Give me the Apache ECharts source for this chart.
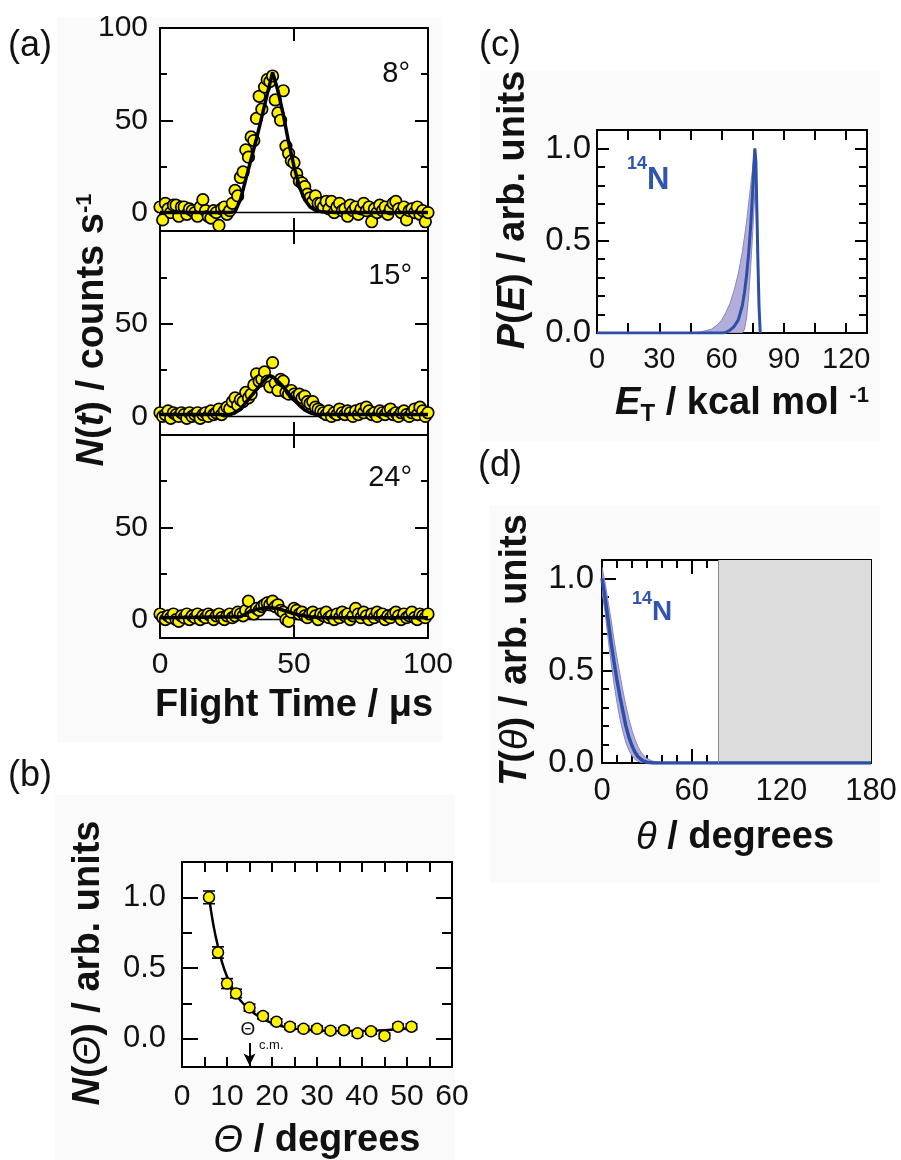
<!DOCTYPE html>
<html><head><meta charset="utf-8">
<script src="https://cdn.jsdelivr.net/npm/echarts@6/dist/echarts.min.js"></script>
<style>html,body{margin:0;padding:0;background:#fff}#c{width:901px;height:1160px}</style>
</head><body><div id="c"></div>
<script>
// ---------- Panel (a): time-of-flight spectra ----------
const flightTime = [0,1,2,3,4,5,6,7,8,9,10,11,12,13,14,15,16,17,18,19,20,21,22,23,24,25,26,27,28,29,30,31,32,33,34,35,36,37,38,39,40,41,42,43,44,45,46,47,48,49,50,51,52,53,54,55,56,57,58,59,60,61,62,63,64,65,66,67,68,69,70,71,72,73,74,75,76,77,78,79,80,81,82,83,84,85,86,87,88,89,90,91,92,93,94,95,96,97,98,99,100];
const counts8 = [3,-4,5,2,0,4,4,-2,3,3, -1,2,1,0,-2,3,7,1,-2,-3, 1,0,-7,2,3,-1,1,5,12,9, 19,22,34,30,41,39,51,63,56,68, 72,71,74,61,54,50,66,36,32,28, 27,21,17,16,14,10,8,6,9,5, 5,3,6,2,6,0,3,5,1,2, -2,4,1,3,-1,2,5,1,3,-5, 2,0,4,1,3,-1,2,5,6,2, 0,3,-4,1,2,0,3,-1,1,-5, 0];
const counts15 = [2,0,1,3,-1,2,1,0,2,1, -1,2,0,1,2,-1,1,2,0,3, 1,2,4,1,3,5,4,8,10,6, 9,8,13,10,12,17,23,19,20,24, 19,16,29,18,14,20,19,13,12,14, 12,11,12,10,11,8,7,8,5,4, 3,2,1,3,0,2,1,4,2,1, 3,2,0,3,1,4,2,5,3,1, 2,0,3,2,1,3,4,1,2,0, 2,3,1,0,2,4,1,5,3,0, 2];
const counts24 = [3,1,0,2,1,3,0,-1,2,1, 3,0,2,1,3,0,2,1,3,2, 0,2,3,1,0,2,3,1,2,4, 3,2,5,10,4,3,6,5,7,8, 9,8,10,7,8,5,4,0,-1,4, 6,5,3,4,2,1,3,4,2,0, 3,2,4,1,2,0,3,1,4,2, 3,0,2,6,3,1,4,2,0,3, 1,4,2,3,0,2,1,3,4,2, 0,3,1,2,4,1,0,3,2,1, 3];
const fit8Time = [0,26,28,30,32,34,36,38,40,41,42,43,44,46,48,50,52,54,56,58,60,65,100];
const fit8Counts = [0,0,0.5,7,18,29,40,52,64,70,76,71,66,53,38,25,14,7,3,1.2,0.5,0,0];
const fit15Time = [0,26,28,30,32,34,36,38,40,41,42,44,46,48,50,52,54,56,58,62,100];
const fit15Counts = [1,1,2,4,7.5,11,14.5,18,21,22,21.5,19,16,12.5,9,6,3.5,2,1.2,1,1];
const fit24Time = [0,30,33,36,40,44,48,52,56,60,100];
const fit24Counts = [1,1.5,4,5.5,6.5,6,4,2.5,1.5,1,1];
const angleLabels = ['8°','15°','24°'];

// ---------- Panel (b): angular distribution ----------
const labAngle = [6,8,10,12,15,18,21,24,27,30,33,36,39,42,45,48,51];
const labIntensity = [1.0,0.61,0.39,0.32,0.22,0.16,0.12,0.085,0.07,0.07,0.057,0.06,0.038,0.052,0.02,0.085,0.085];
const labError = [0.045,0.04,0.035,0.03,0.025,0.02,0.02,0.02,0.02,0.02,0.02,0.02,0.02,0.02,0.02,0.02,0.02];
const fitAngle = [6,7,8,9,10,11,12,14,16,18,20,22,24,27,30,35,40,45,48,52];
const fitIntensity = [1.0,0.8,0.65,0.53,0.44,0.37,0.31,0.235,0.18,0.14,0.11,0.09,0.075,0.065,0.06,0.055,0.055,0.06,0.068,0.078];
const cmAngle = 15;

// ---------- Panel (c): P(E) ----------
const energy = [0,45,50,55,58,60,62,64,66,68,70,71,72,73,74,75,75.5,76,76.5,77,77.5,78,78.6];
const pMain  = [0,0,0,0,0,0,0.003,0.015,0.035,0.07,0.15,0.22,0.31,0.43,0.58,0.78,0.9,1.0,0.93,0.65,0.38,0.15,0];
const pUpper = [0,0,0.006,0.02,0.045,0.07,0.11,0.16,0.23,0.32,0.44,0.52,0.6,0.7,0.8,0.9,0.95,0.98,0.9,0.65,0.38,0.15,0];
const pLower = [0,0,0,0,0,0,0,0,0,0,0,0.02,0.08,0.2,0.36,0.55,0.66,0.76,0.72,0.52,0.3,0.1,0];

// ---------- Panel (d): T(theta) ----------
const theta  = [0,2,4,6,8,10,12,14,16,18,20,22,24,26,28,30,34,40,180];
const tMain  = [1.0,0.9,0.78,0.66,0.55,0.45,0.36,0.28,0.2,0.14,0.095,0.06,0.035,0.02,0.01,0.004,0,0,0];
const tUpper = [1.06,0.98,0.88,0.78,0.67,0.57,0.48,0.39,0.31,0.24,0.18,0.13,0.09,0.06,0.04,0.025,0.01,0.002,0];
const tLower = [0.93,0.82,0.68,0.55,0.43,0.33,0.24,0.17,0.11,0.07,0.04,0.02,0.01,0.004,0.001,0,0,0,0];
const grayStart = 78;

// ---------- styling ----------
const F = '"Liberation Sans", Arial, sans-serif';
const BLUE = '#2D4FA6', BAND = '#B3ADDA', BANDEDGE = '#8A83C6', YEL = '#FFF200';
const AX = {color:'#000', width:2};

const grids = [
  {left:160, top:28,  width:268, height:203},
  {left:160, top:231, width:268, height:204},
  {left:160, top:435, width:268, height:203},
  {left:182, top:862, width:270, height:205},
  {left:597, top:130, width:270, height:203},
  {left:602, top:560, width:269, height:203}
].map(g => Object.assign({show:true, backgroundColor:'#fff', borderWidth:0, z:0}, g));

const xAxes = [], yAxes = [];
function axis(g, pos, range, ticks, len, labels, showLine, margin, fmt, fs) {
  return {
    gridIndex:g, type:'value', position:pos, min:range[0], max:range[1],
    axisLine:{show:showLine, onZero:false, lineStyle:AX},
    axisTick:{show:ticks.length>0, inside:true, length:len, customValues:ticks, lineStyle:AX},
    axisLabel: labels ? {show:true, customValues:labels, fontSize:fs, color:'#111', fontFamily:F, margin:margin, formatter:fmt} : {show:false},
    splitLine:{show:false}, minorTick:{show:false}, axisPointer:{show:false}
  };
}
function addAxes(g, o) {
  const xi = xAxes.length, yi = yAxes.length;
  xAxes.push(axis(g,'bottom',o.xr,o.xMaj,o.xL,o.xLab,true,o.xMg,o.xFmt,o.xFs));
  xAxes.push(axis(g,'bottom',o.xr,o.xMin,o.xS,null,false));
  xAxes.push(axis(g,'top',o.xr,o.xMaj,o.xL,null,true));
  xAxes.push(axis(g,'top',o.xr,o.xMin,o.xS,null,false));
  yAxes.push(axis(g,'left',o.yr,o.yMaj,o.yL,o.yLab,true,o.yMg,o.yFmt,o.yFs));
  yAxes.push(axis(g,'left',o.yr,o.yMin,o.yS,null,false));
  yAxes.push(axis(g,'right',o.yr,o.yMaj,o.yL,null,true));
  yAxes.push(axis(g,'right',o.yr,o.yMin,o.yS,null,false));
  return {xAxisIndex:xi, yAxisIndex:yi};
}
const intFmt = v => String(Math.round(v));
const decFmt = v => v.toFixed(1);

const aBase = {xr:[0,100], xMaj:[0,50,100], xMin:[], xL:13, xS:7, yr:[-10,100], yMaj:[0,50,100], yMin:[25,75], yL:13, yS:7, yMg:12, yFmt:intFmt, yFs:30};
const A1 = addAxes(0, Object.assign({}, aBase, {yLab:[0,50,100]}));
const A2 = addAxes(1, Object.assign({}, aBase, {yLab:[0,50]}));
const A3 = addAxes(2, Object.assign({}, aBase, {yLab:[0,50], xLab:[0,50,100], xMg:12, xFmt:intFmt, xFs:30}));
const B = addAxes(3, {xr:[0,60], xMaj:[0,10,20,30,40,50,60], xMin:[5,15,25,35,45,55], xL:10, xS:10, xLab:[0,10,20,30,40,50,60], xMg:15, xFmt:intFmt, xFs:30,
  yr:[-0.2,1.25], yMaj:[0,0.5,1.0], yMin:[0.25,0.75], yL:16, yS:10, yLab:[0,0.5,1.0], yMg:16, yFmt:decFmt, yFs:31});
const C = addAxes(4, {xr:[0,130], xMaj:[0,15,30,45,60,75,90,105,120], xMin:[], xL:10, xS:10, xLab:[0,30,60,90,120], xMg:12, xFmt:intFmt, xFs:29,
  yr:[0,1.1], yMaj:[0,0.5,1.0], yMin:[0.1,0.2,0.3,0.4,0.6,0.7,0.8,0.9], yL:12, yS:8, yLab:[0,0.5,1.0], yMg:6, yFmt:decFmt, yFs:33});
const D = addAxes(5, {xr:[0,180], xMaj:[0,60,120,180], xMin:[10,20,30,40,50,70,80,90,100,110,130,140,150,160,170], xL:14, xS:8, xLab:[0,60,120,180], xMg:13, xFmt:intFmt, xFs:31,
  yr:[0,1.1], yMaj:[0,0.5,1.0], yMin:[0.1,0.2,0.3,0.4,0.6,0.7,0.8,0.9], yL:14, yS:7, yLab:[0,0.5,1.0], yMg:8, yFmt:decFmt, yFs:33});

const pairs = (xs, ys) => xs.map((x,i)=>[x, ys[i]]);
const series = [];
function tofPanel(ax, counts, fitT, fitV) {
  series.push(Object.assign({type:'line', data:[[0,0],[100,0]], symbol:'none', lineStyle:{color:'#000', width:1.5}, z:1, silent:true}, ax));
  series.push(Object.assign({type:'scatter', data:pairs(flightTime, counts), symbol:'circle', symbolSize:11.5,
    itemStyle:{color:YEL, borderColor:'#000', borderWidth:1.7, opacity:1}, z:2}, ax));
  series.push(Object.assign({type:'line', data:pairs(fitT, fitV), symbol:'none', lineStyle:{color:'#000', width:3.5}, z:3}, ax));
}
tofPanel(A1, counts8, fit8Time, fit8Counts);
tofPanel(A2, counts15, fit15Time, fit15Counts);
tofPanel(A3, counts24, fit24Time, fit24Counts);

// panel b
series.push(Object.assign({type:'line', data:pairs(fitAngle, fitIntensity), symbol:'none', smooth:0.3, lineStyle:{color:'#000', width:2.5}, z:2,
  markLine:{silent:true, symbol:['none','arrow'], symbolSize:[9,12], label:{show:false}, lineStyle:{color:'#000', width:2, type:'solid'},
    data:[[{coord:[cmAngle,-0.03]},{coord:[cmAngle,-0.19]}]]}}, B));
series.push(Object.assign({type:'custom', z:3, data:labAngle.map((a,i)=>[a, labIntensity[i], labError[i]]), encode:{x:0,y:1},
  renderItem:(p, api) => {
    const x = api.value(0), y = api.value(1), e = api.value(2);
    const t = api.coord([x, y+e]), b = api.coord([x, y-e]), w = 6;
    const st = {stroke:'#000', lineWidth:1.6};
    return {type:'group', children:[
      {type:'line', shape:{x1:t[0],y1:t[1],x2:b[0],y2:b[1]}, style:st},
      {type:'line', shape:{x1:t[0]-w,y1:t[1],x2:t[0]+w,y2:t[1]}, style:st},
      {type:'line', shape:{x1:b[0]-w,y1:b[1],x2:b[0]+w,y2:b[1]}, style:st}]};
  }}, B));
series.push(Object.assign({type:'scatter', z:4, data:pairs(labAngle, labIntensity), symbolSize:11,
  itemStyle:{color:YEL, borderColor:'#000', borderWidth:1.5, opacity:1}}, B));

// band helper
function band(ax, xs, up, lo) {
  series.push(Object.assign({type:'custom', z:2, data:[[xs[0], up[0]]], encode:{x:0,y:1}, clip:true,
    renderItem:(p, api) => {
      const pts = [];
      xs.forEach((x,i)=>pts.push(api.coord([x, up[i]])));
      for (let i=xs.length-1;i>=0;i--) pts.push(api.coord([xs[i], lo[i]]));
      return {type:'polygon', shape:{points:pts}, style:{fill:BAND, stroke:BANDEDGE, lineWidth:1}};
    }}, ax));
}
// panel c
band(C, energy, pUpper, pLower);
series.push(Object.assign({type:'line', z:3, data:pairs(energy, pMain), symbol:'none', lineStyle:{color:BLUE, width:3}}, C));
// panel d
series.push(Object.assign({type:'line', z:1, data:[], symbol:'none',
  markArea:{silent:true, itemStyle:{color:'#DCDCDC'}, data:[[{xAxis:grayStart},{xAxis:180}]]},
  markLine:{silent:true, symbol:['none','none'], label:{show:false}, lineStyle:{color:'#8C8C8C', width:1, type:'solid'}, data:[{xAxis:grayStart}]}}, D));
band(D, theta, tUpper, tLower);
series.push(Object.assign({type:'line', z:3, data:pairs(theta, tMain), symbol:'none', lineStyle:{color:BLUE, width:3.5}}, D));

// ---------- texts ----------
const TF = 38;
const T = (x, y, text, rich, opts) => Object.assign({type:'text', x:x, y:y, z:10,
  style:Object.assign({text:text, align:'center', verticalAlign:'middle', fontFamily:F, fontSize:36, fill:'#111', rich:rich}, (opts && opts.style)||{})},
  opts ? {rotation: opts.rotation||0} : {});
const bi = {fontFamily:F, fontSize:TF, fontWeight:'bold', fontStyle:'italic', fill:'#111'};
const b  = {fontFamily:F, fontSize:TF, fontWeight:'bold', fill:'#111'};
const it = {fontFamily:F, fontSize:TF, fontStyle:'italic', fill:'#111'};
const sup = {fontFamily:F, fontSize:22, fontWeight:'bold', fill:'#111', verticalAlign:'top'};
const sub = {fontFamily:F, fontSize:24, fontWeight:'bold', fill:'#111', lineHeight:24, padding:[20,0,0,0]};
const R = Math.PI/2;
const bg = '#FAFAFA';
const graphic = [
  {type:'rect', z:-100, shape:{x:57,y:17,width:385,height:725}, style:{fill:bg}},
  {type:'rect', z:-100, shape:{x:55,y:795,width:400,height:365}, style:{fill:bg}},
  {type:'rect', z:-100, shape:{x:480,y:70,width:400,height:372}, style:{fill:bg}},
  {type:'rect', z:-100, shape:{x:490,y:505,width:390,height:378}, style:{fill:bg}},
  T(30,46,'(a)'), T(30,776,'(b)'), T(500,46,'(c)'), T(500,466,'(d)'),
  T(410,74, angleLabels[0], null, {style:{align:'right', fontSize:29}}),
  T(412,276, angleLabels[1], null, {style:{align:'right', fontSize:29}}),
  T(412,478, angleLabels[2], null, {style:{align:'right', fontSize:29}}),
  T(294,706,'{b|Flight Time / μs}', {b:b}),
  T(93,330,'{i|N}{b|(}{i|t}{b|) / counts s}{s|-1}', {i:bi, b:b, s:sup}, {rotation:R}),
  T(317,1141,'{t|Θ}{b| / degrees}', {t:it, b:b}),
  T(89,963,'{i|N}{b|(}{t|Θ}{b|) / arb. units}', {i:bi, b:b, t:it}, {rotation:R}),
  T(742,404,'{i|E}{s|T}{b| / kcal mol }{p|-1}', {i:bi, s:sub, b:b, p:sup}),
  T(514,210,'{i|P}{b|(}{i|E}{b|) / arb. units}', {i:bi, b:b}, {rotation:R}),
  T(735,838,'{t|θ}{b| / degrees}', {t:it, b:b}),
  T(516,650,'{i|T}{b|(}{t|θ}{b|) / arb. units}', {i:bi, b:b, t:it}, {rotation:R}),
  T(627,180,'{s|14}{n|N}', {s:{fontFamily:F, fontSize:18, fontWeight:'bold', fill:'#2F55B0', verticalAlign:'top'}, n:{fontFamily:F, fontSize:31, fontWeight:'bold', fill:'#2F55B0', lineHeight:50}}, {style:{align:'left'}}),
  T(632,612,'{s|14}{n|N}', {s:{fontFamily:F, fontSize:18, fontWeight:'bold', fill:'#2F55B0', verticalAlign:'top'}, n:{fontFamily:F, fontSize:28, fontWeight:'bold', fill:'#2F55B0', lineHeight:44}}, {style:{align:'left'}}),
  T(248,1030,'Θ', null, {style:{fontSize:19}}),
  T(259,1045,'c.m.', null, {style:{fontSize:13, align:'left'}})
];

const chart = echarts.init(document.getElementById('c'), null, {renderer:'canvas', width:901, height:1160});
chart.setOption({animation:false, backgroundColor:'#fff', grid:grids, xAxis:xAxes, yAxis:yAxes, series:series, graphic:graphic});
</script></body></html>
